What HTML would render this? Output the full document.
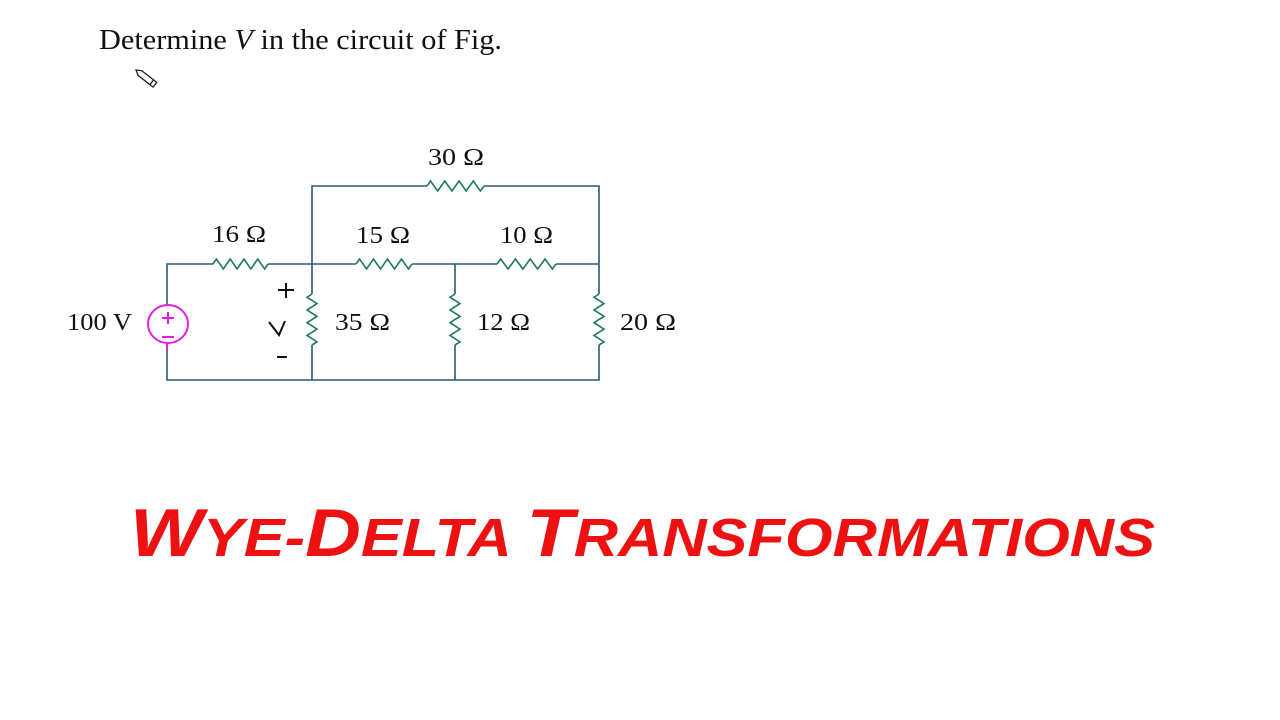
<!DOCTYPE html>
<html><head><meta charset="utf-8"><style>
html,body{margin:0;padding:0;background:#fff;}
svg{display:block;}
</style></head><body>
<svg width="1280" height="720" viewBox="0 0 1280 720" xmlns="http://www.w3.org/2000/svg">
<rect width="1280" height="720" fill="#fff"/>
<text x="99" y="49" textLength="403" lengthAdjust="spacingAndGlyphs" font-family="Liberation Serif, serif" font-size="28" fill="#111">Determine <tspan font-style="italic">V</tspan> in the circuit of Fig.</text>
<g transform="translate(136,70) rotate(38)" fill="none" stroke="#222" stroke-width="1.3">
<path d="M0,0 L5,-3 L24,-3 L24,3 L5,3 Z"/><line x1="20" y1="-3" x2="20" y2="3"/>
</g>
<g fill="none" stroke="#2a5a78" stroke-width="1.6">
<path d="M312,264 L312,186 L427,186 M484,186 L599,186 L599,294 M599,345 L599,380 L167,380 L167,342"/>
<path d="M167,305 L167,264 L213,264 M268,264 L356,264 M412,264 L497,264 M556,264 L599,264"/>
<path d="M312,264 L312,294 M312,345 L312,380 M455,264 L455,294 M455,345 L455,380"/>
</g>
<g fill="none" stroke="#1f7a55" stroke-width="1.6">
<path d="M427,186 l3.56,-5 l7.12,10 l7.12,-10 l7.12,10 l7.12,-10 l7.12,10 l7.12,-10 l7.12,10 l3.56,-5"/>
<path d="M213,264 l3.44,-5 l6.88,10 l6.88,-10 l6.88,10 l6.88,-10 l6.88,10 l6.88,-10 l6.88,10 l3.44,-5"/>
<path d="M356,264 l3.5,-5 l7,10 l7,-10 l7,10 l7,-10 l7,10 l7,-10 l7,10 l3.5,-5"/>
<path d="M497,264 l3.69,-5 l7.38,10 l7.38,-10 l7.38,10 l7.38,-10 l7.38,10 l7.38,-10 l7.38,10 l3.69,-5"/>
<path d="M312,294 l-5,3.19 l10,6.38 l-10,6.38 l10,6.38 l-10,6.38 l10,6.38 l-10,6.38 l10,6.38 l-5,3.19"/>
<path d="M455,294 l-5,3.19 l10,6.38 l-10,6.38 l10,6.38 l-10,6.38 l10,6.38 l-10,6.38 l10,6.38 l-5,3.19"/>
<path d="M599,294 l-5,3.19 l10,6.38 l-10,6.38 l10,6.38 l-10,6.38 l10,6.38 l-10,6.38 l10,6.38 l-5,3.19"/>
</g>
<g fill="none" stroke="#e020e0" stroke-width="2">
<ellipse cx="168" cy="324" rx="20" ry="19"/>
<path d="M162,318 h12 M168,312 v12 M162,337 h12 M167,343 v8"/>
</g>
<g font-family="Liberation Serif, serif" font-size="24" fill="#111">
<text x="428" y="165" textLength="56" lengthAdjust="spacingAndGlyphs">30 Ω</text>
<text x="212" y="242" textLength="54" lengthAdjust="spacingAndGlyphs">16 Ω</text>
<text x="356" y="243" textLength="54" lengthAdjust="spacingAndGlyphs">15 Ω</text>
<text x="500" y="243" textLength="53" lengthAdjust="spacingAndGlyphs">10 Ω</text>
<text x="67" y="330" textLength="65" lengthAdjust="spacingAndGlyphs">100 V</text>
<text x="335" y="330" textLength="55" lengthAdjust="spacingAndGlyphs">35 Ω</text>
<text x="477" y="330" textLength="53" lengthAdjust="spacingAndGlyphs">12 Ω</text>
<text x="620" y="330" textLength="56" lengthAdjust="spacingAndGlyphs">20 Ω</text>
</g>
<g fill="none" stroke="#111" stroke-width="2">
<path d="M278,290 h16 M286,283 v15"/>
<path d="M269,322 l10,13 l6,-14"/>
<path d="M277,357 h10"/>
</g>
<text x="130" y="556" textLength="1025" lengthAdjust="spacingAndGlyphs" font-family="Liberation Sans, sans-serif" font-weight="bold" font-style="italic" fill="#ee1111"><tspan font-size="68">W</tspan><tspan font-size="54">YE-</tspan><tspan font-size="68">D</tspan><tspan font-size="54">ELTA </tspan><tspan font-size="68">T</tspan><tspan font-size="54">RANSFORMATIONS</tspan></text>
</svg>
</body></html>
